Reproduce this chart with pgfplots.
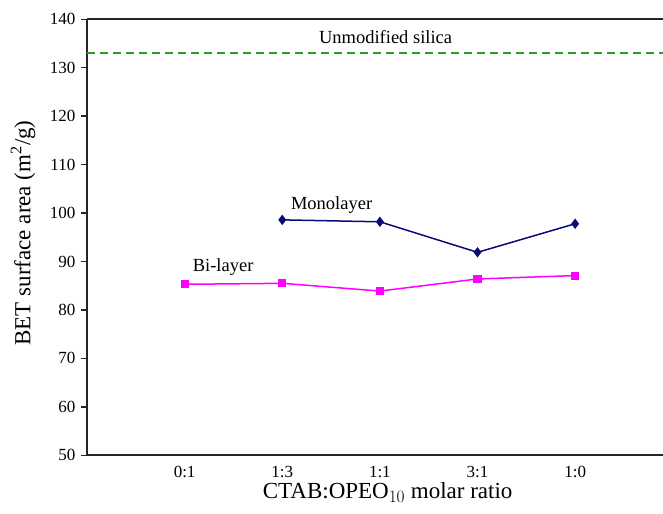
\documentclass[border=0pt]{standalone}
\usepackage{fontspec}
\setmainfont{Liberation Serif}
\usepackage{pgfplots}
\pgfplotsset{compat=1.18}

\definecolor{mononavy}{RGB}{10,10,120}
\definecolor{bimag}{RGB}{255,0,255}
\definecolor{silgreen}{RGB}{40,160,40}

\begin{document}
\begin{tikzpicture}
\useasboundingbox (-87pt,-58pt) rectangle (576pt,455.3pt);
\begin{axis}[
  at={(0,0)}, anchor=south west,
  scale only axis,
  width=576pt, height=436pt,
  xmin=-1, xmax=4.9,
  ymin=50, ymax=140,
  axis x line*=box, axis y line*=left,
  axis line style={line width=1.8pt, black!85},
  xtick={0,1,2,3,4},
  xticklabels={0:1, 1:3, 1:1, 3:1, 1:0},
  xtick style={draw=none},
  ytick={50,60,...,140},
  tick align=outside,
  major tick length=5.7pt,
  ytick style={line width=1.5pt, black!85},
  /pgf/number format/assume math mode=true,
  tick label style={font=\fontsize{17}{20}\selectfont},
  xticklabel style={anchor=base, yshift=-16pt, inner sep=0pt},
  yticklabel style={xshift=-2.5pt},
  label style={font=\fontsize{23}{26}\selectfont},
  xlabel={CTAB:OPEO$_{10}$ molar ratio},
  xlabel style={at={(axis description cs:0.522,-0.1)}, anchor=base, inner sep=0pt},
  ylabel={BET surface area (m\textsuperscript{2}/g)},
  ylabel style={at={(axis description cs:-0.111,0.51)}, anchor=center},
  clip=false,
]
% unmodified silica reference
\addplot[silgreen, line width=1.8pt, dash pattern=on 8pt off 5pt] coordinates {(-1,133) (4.9,133)};
% monolayer
\addplot[mononavy, line width=1.5pt, mark=diamond*, mark size=4pt,
  mark options={solid, fill=mononavy}] coordinates {
  (1,98.6) (2,98.2) (3,91.9) (4,97.8)};
% bi-layer
\addplot[bimag, line width=1.5pt, mark=square*, mark size=3.3pt,
  mark options={solid, fill=bimag}] coordinates {
  (0,85.3) (1,85.5) (2,83.9) (3,86.4) (4,87.1)};

\node[anchor=base west, inner sep=0, font=\fontsize{18.5}{21}\selectfont]
  at (axis cs:1.375,135.1) {Unmodified silica};
\node[anchor=base west, inner sep=0, font=\fontsize{18.5}{21}\selectfont]
  at (axis cs:1.088,100.8) {Monolayer};
\node[anchor=base west, inner sep=0, font=\fontsize{18.5}{21}\selectfont]
  at (axis cs:0.082,87.9) {Bi-layer};
\end{axis}
\end{tikzpicture}
\end{document}
